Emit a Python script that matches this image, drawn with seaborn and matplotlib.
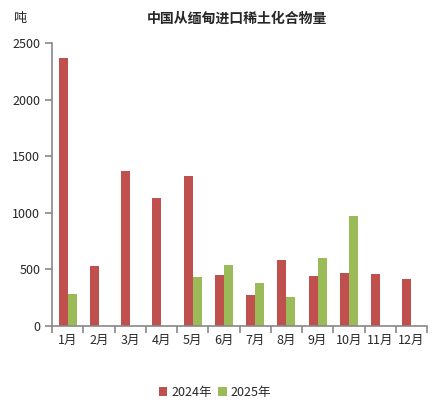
import pandas as pd
import numpy as np
import matplotlib.pyplot as plt
import seaborn as sns
from matplotlib.ticker import FixedLocator

months = ["1月", "2月", "3月", "4月", "5月", "6月", "7月", "8月", "9月", "10月", "11月", "12月"]
y2024 = [2370, 530, 1370, 1130, 1325, 450, 275, 583, 442, 468, 460, 415]
y2025 = [285, 0, 0, 0, 435, 540, 380, 256, 601, 972, 0, 0]
series = ["2024年", "2025年"]
colors = ["#c0504d", "#9bbb59"]

df = pd.DataFrame({
    "month": months * 2,
    "year": [series[0]] * 12 + [series[1]] * 12,
    "value": y2024 + y2025,
})

sns.set_style("white")
plt.rcParams["font.family"] = ["Noto Sans CJK SC", "DejaVu Sans"]

fig = plt.figure(figsize=(4.43, 4.15), dpi=100)
ax = fig.add_axes([0.1174, 0.2145, 0.8465, 0.6819])

sns.barplot(data=df, x="month", y="value", hue="year", palette=colors,
            width=0.58, linewidth=0, saturation=1, ax=ax, legend=True)

ax.set_ylim(0, 2500)
ax.set_xlim(-0.5, 11.5)
ax.set_yticks([0, 500, 1000, 1500, 2000, 2500])
ax.set_xlabel("")
ax.set_ylabel("")

axis_col = "#888888"
for s in ["top", "right"]:
    ax.spines[s].set_visible(False)
for s in ["left", "bottom"]:
    ax.spines[s].set_color(axis_col)
    ax.spines[s].set_linewidth(1.2)

ax.xaxis.set_minor_locator(FixedLocator(np.arange(-0.5, 12, 1)))
ax.tick_params(axis="x", which="major", length=0, labelsize=9, pad=6)
ax.tick_params(axis="x", which="minor", length=5, color=axis_col, width=1.2, direction="out")
ax.tick_params(axis="y", length=5, color=axis_col, width=1.2, labelsize=9, direction="out", left=True)
ax.tick_params(axis="x", bottom=True, which="both")

fig.text(0.535, 0.955, "中国从缅甸进口稀土化合物量", ha="center", va="center",
         fontsize=10, fontweight="bold")
fig.text(0.045, 0.955, "吨", ha="center", va="center", fontsize=9.5)

ax.legend(loc="center", bbox_to_anchor=(0.485, 0.055), bbox_transform=fig.transFigure,
          ncol=2, frameon=False, fontsize=9, handlelength=0.7, handleheight=0.7,
          handletextpad=0.3, columnspacing=0.5)

fig.savefig("out.png", dpi=100)
